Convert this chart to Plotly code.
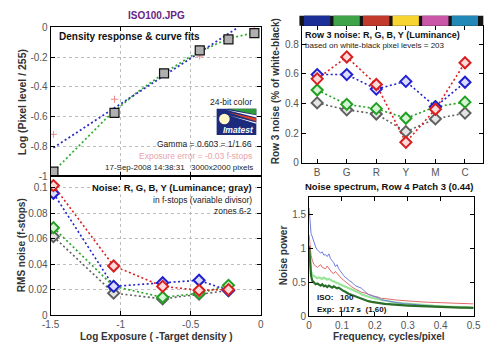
import plotly.graph_objects as go

# ---------------- data ----------------
# Top-left: density response
tl_x = [-1.48, -1.044, -0.69, -0.435, -0.23, -0.045]
tl_y = [-0.97, -0.575, -0.31, -0.155, -0.082, -0.04]
tl_red_x = [-1.48, -1.044, -0.435, -0.045]
tl_red_y = [-0.72, -0.484, -0.194, -0.015]
fit_blue_x = [-1.48, -0.16]
fit_blue_y = [-0.81, 0.0]
fit_green_x = [-1.48, -1.3, -1.1, -0.9, -0.7, -0.5, -0.3, -0.2, -0.1, -0.04]
fit_green_y = [-0.97, -0.80, -0.61, -0.45, -0.315, -0.195, -0.105, -0.07, -0.047, -0.036]
tl_yticks = [0, -0.2, -0.4, -0.6, -0.8, -1]
tl_yticktext = ["0", "-0.2", "-0.4", "-0.6", "-0.8", "-1"]

# Bottom-left: RMS noise (f-stops), zones 6-2
bl_x = [-1.48, -1.05, -0.70, -0.44, -0.23]
bl_red = [0.1015, 0.0385, 0.0225, 0.0195, 0.0200]
bl_blue = [0.0955, 0.0225, 0.0253, 0.0273, 0.0192]
bl_green = [0.0685, 0.0225, 0.0140, 0.0170, 0.0233]
bl_gray = [0.0615, 0.0172, 0.0127, 0.0165, 0.0192]
bl_xticks = [-1.5, -1, -0.5, 0]
bl_xticktext = ["-1.5", "-1", "-0.5", "0"]

# Top-right: Row 3 noise by patch colour
tr_cats = ["B", "G", "R", "Y", "M", "C"]
tr_red = [0.566, 0.714, 0.528, 0.138, 0.361, 0.675]
tr_blue = [0.595, 0.595, 0.497, 0.549, 0.378, 0.543]
tr_green = [0.491, 0.394, 0.365, 0.300, 0.378, 0.409]
tr_gray = [0.404, 0.357, 0.329, 0.210, 0.296, 0.335]
patch_colors = ["#1c2f96", "#3fa34a", "#c23a2c", "#f7d430", "#c956a6", "#2288b8"]

# Bottom-right: noise spectrum
freq = [0, 0.003, 0.006, 0.01, 0.015, 0.02, 0.025, 0.03, 0.035, 0.04, 0.045, 0.05,
        0.055, 0.06, 0.065, 0.07, 0.075, 0.08, 0.085, 0.09, 0.095, 0.1, 0.105, 0.11,
        0.115, 0.12, 0.13, 0.14, 0.15, 0.16, 0.17, 0.18, 0.19, 0.2, 0.21, 0.22, 0.23,
        0.24, 0.25, 0.26, 0.27, 0.28, 0.29, 0.3, 0.32, 0.34, 0.36, 0.38, 0.4, 0.42,
        0.44, 0.46, 0.48, 0.5]
sp_blue = [1.60, 1.38, 1.22, 1.17, 1.08, 1.02, 0.98, 0.96, 0.93, 0.95, 0.90, 0.91,
           0.88, 0.92, 0.85, 0.82, 0.79, 0.73, 0.76, 0.70, 0.66, 0.62, 0.60, 0.57,
           0.56, 0.53, 0.50, 0.45, 0.43, 0.41, 0.36, 0.32, 0.30, 0.29, 0.27, 0.24,
           0.23, 0.22, 0.21, 0.20, 0.19, 0.19, 0.18, 0.18, 0.17, 0.155, 0.15, 0.14,
           0.135, 0.13, 0.13, 0.125, 0.125, 0.12]
sp_red = [1.20, 1.02, 0.90, 0.82, 0.76, 0.74, 0.72, 0.74, 0.76, 0.72, 0.71, 0.70,
          0.74, 0.70, 0.68, 0.64, 0.63, 0.66, 0.63, 0.60, 0.58, 0.55, 0.53, 0.51,
          0.48, 0.47, 0.43, 0.40, 0.37, 0.35, 0.34, 0.32, 0.30, 0.29, 0.28, 0.26,
          0.26, 0.25, 0.24, 0.24, 0.235, 0.23, 0.23, 0.225, 0.215, 0.21, 0.205, 0.20,
          0.20, 0.195, 0.19, 0.19, 0.185, 0.18]
sp_lgreen = [0.99, 0.80, 0.66, 0.61, 0.59, 0.58, 0.56, 0.57, 0.56, 0.55, 0.57, 0.56,
             0.54, 0.55, 0.53, 0.52, 0.51, 0.50, 0.49, 0.48, 0.47, 0.46, 0.45, 0.44,
             0.42, 0.41, 0.39, 0.37, 0.35, 0.32, 0.30, 0.29, 0.27, 0.26, 0.25, 0.23,
             0.22, 0.21, 0.205, 0.20, 0.195, 0.19, 0.185, 0.18, 0.17, 0.16, 0.155, 0.15,
             0.145, 0.14, 0.135, 0.13, 0.125, 0.12]
sp_dgreen = [1.04, 0.78, 0.60, 0.52, 0.49, 0.47, 0.48, 0.46, 0.45, 0.47, 0.44, 0.45,
             0.43, 0.45, 0.44, 0.42, 0.44, 0.43, 0.41, 0.42, 0.40, 0.39, 0.37, 0.36,
             0.34, 0.33, 0.31, 0.29, 0.27, 0.25, 0.24, 0.22, 0.21, 0.20, 0.195, 0.19,
             0.18, 0.175, 0.17, 0.165, 0.16, 0.16, 0.155, 0.155, 0.15, 0.145, 0.14, 0.14,
             0.135, 0.13, 0.13, 0.125, 0.125, 0.12]

# ---------------- helpers ----------------
W, H = 500, 352
def px(x):
    return x / W
def py(y):
    return 1 - y / H

FONT = "Liberation Sans, Arial, sans-serif"
TXT = "#222222"
DOTS = "2px,2.5px"

fig = go.Figure()

# ---- top-left traces
fig.add_trace(go.Scatter(x=fit_green_x, y=fit_green_y, mode="lines",
                         line=dict(color="#34b034", width=1.8, dash=DOTS),
                         xaxis="x", yaxis="y"))
fig.add_trace(go.Scatter(x=fit_blue_x, y=fit_blue_y, mode="lines",
                         line=dict(color="#2c2cc8", width=1.8, dash=DOTS),
                         xaxis="x", yaxis="y"))
fig.add_trace(go.Scatter(x=tl_red_x, y=tl_red_y, mode="markers",
                         marker=dict(symbol="cross-thin", size=5,
                                     line=dict(color="#ee8888", width=1)),
                         xaxis="x", yaxis="y"))
fig.add_trace(go.Scatter(x=tl_x, y=tl_y, mode="markers",
                         marker=dict(symbol="square", size=9, color="#b0b0b0",
                                     line=dict(color="#111111", width=1.2)),
                         xaxis="x", yaxis="y"))

# ---- bottom-left and top-right series
series_style = [
    ("#606060", "#e4e4e4"),
    ("#22a022", "#d4f4d4"),
    ("#2020d0", "#dcdcff"),
    ("#d82020", "#ffdada"),
]
bl_vals = [bl_gray, bl_green, bl_blue, bl_red]
tr_vals = [tr_gray, tr_green, tr_blue, tr_red]
for (lc, fc), v in zip(series_style, bl_vals):
    fig.add_trace(go.Scatter(x=bl_x, y=v, mode="lines+markers",
                             line=dict(color=lc, width=1.6, dash=DOTS),
                             marker=dict(symbol="diamond", size=8.5, color=fc,
                                         line=dict(color=lc, width=2)),
                             xaxis="x2", yaxis="y2"))
for (lc, fc), v in zip(series_style, tr_vals):
    fig.add_trace(go.Scatter(x=tr_cats, y=v, mode="lines+markers",
                             line=dict(color=lc, width=1.6, dash=DOTS),
                             marker=dict(symbol="diamond", size=8.5, color=fc,
                                         line=dict(color=lc, width=2)),
                             xaxis="x3", yaxis="y3"))

# ---- bottom-right spectrum
fig.add_trace(go.Scatter(x=freq, y=sp_red, mode="lines",
                         line=dict(color="#e06a6a", width=1), xaxis="x4", yaxis="y4"))
fig.add_trace(go.Scatter(x=freq, y=sp_lgreen, mode="lines",
                         line=dict(color="#98e698", width=2.2), xaxis="x4", yaxis="y4"))
fig.add_trace(go.Scatter(x=freq, y=sp_blue, mode="lines",
                         line=dict(color="#6f7de0", width=1), xaxis="x4", yaxis="y4"))
fig.add_trace(go.Scatter(x=freq, y=sp_dgreen, mode="lines",
                         line=dict(color="#2a6e2a", width=2.2), xaxis="x4", yaxis="y4"))

# ---------------- axes ----------------
base = dict(showline=True, linecolor="black", linewidth=1, mirror="ticks",
            ticks="inside", ticklen=4, tickcolor="black", zeroline=False,
            tickfont=dict(size=10, color="#555555", family=FONT), showgrid=False)
grid = dict(showgrid=True, gridcolor="#bdbdbd", griddash="dot", gridwidth=1)

dom_left = [px(43), px(260)]
fig.update_layout(
    xaxis=dict(base, **grid, domain=dom_left, range=[-1.5, 0], anchor="y",
               tickvals=bl_xticks, showticklabels=False),
    yaxis=dict(base, **grid, domain=[py(176), py(22)], range=[-1, 0], anchor="x",
               tickvals=tl_yticks, ticktext=tl_yticktext),
    xaxis2=dict(base, **grid, domain=dom_left, range=[-1.5, 0], anchor="y2",
                tickvals=bl_xticks, ticktext=bl_xticktext),
    yaxis2=dict(base, **grid, domain=[py(320), py(176)], range=[0, 0.109], anchor="x2",
                dtick=0.02),
    xaxis3=dict(base, domain=[px(302.5), px(490)], range=[-0.52, 5.62], anchor="y3",
                type="category"),
    yaxis3=dict(base, domain=[py(162.3), py(20.5)], range=[0, 0.924], anchor="x3",
                dtick=0.2),
    xaxis4=dict(base, domain=[px(310), px(480)], range=[0, 0.5], anchor="y4",
                dtick=0.1),
    yaxis4=dict(base, domain=[py(321), py(198)], range=[0, 1.757], anchor="x4",
                dtick=0.5),
)

# ---------------- shapes ----------------
shapes = []
# colour strip above top-right panel (computed from category positions)
x3_dom = [px(302.5), px(490)]
x3_rng = [-0.52, 5.62]
def x3p(v):
    return x3_dom[0] + (v - x3_rng[0]) / (x3_rng[1] - x3_rng[0]) * (x3_dom[1] - x3_dom[0])
shapes.append(dict(type="rect", xref="paper", yref="paper",
                   x0=px(300), x1=px(490), y0=py(20.5), y1=py(10),
                   fillcolor="#151515", line=dict(width=0), layer="above"))
for i, c in enumerate(patch_colors):
    left = max(i - 0.45, -0.5)
    shapes.append(dict(type="rect", xref="paper", yref="paper",
                       x0=x3p(left), x1=x3p(i + 0.44), y0=py(20.5), y1=py(10),
                       fillcolor=c, line=dict(width=0), layer="above"))

# Imatest logo
def path(pts):
    s = "M " + " L ".join(f"{px(a):.5f},{py(b):.5f}" for a, b in pts) + " Z"
    return s
shapes.append(dict(type="rect", xref="paper", yref="paper",
                   x0=px(214.5), x1=px(255.5), y0=py(133.5), y1=py(106.5),
                   fillcolor="#1d2b7c", line=dict(width=0)))
shapes.append(dict(type="path", xref="paper", yref="paper",
                   path=path([(226, 106.5), (255.5, 106.5), (255.5, 112.5)]),
                   fillcolor="#2f9a3c", line=dict(width=0)))
shapes.append(dict(type="path", xref="paper", yref="paper",
                   path=path([(224, 107.5), (255.5, 113.2), (255.5, 115.5)]),
                   fillcolor="#ffffff", line=dict(width=0)))
shapes.append(dict(type="path", xref="paper", yref="paper",
                   path=path([(226, 110), (255.5, 116.2), (255.5, 119.5)]),
                   fillcolor="#d8402c", line=dict(width=0)))
shapes.append(dict(type="path", xref="paper", yref="paper",
                   path=path([(227, 113), (255.5, 120.5), (255.5, 122)]),
                   fillcolor="#ffffff", line=dict(width=0)))
shapes.append(dict(type="circle", xref="paper", yref="paper",
                   x0=px(217), x1=px(228), y0=py(122.5), y1=py(111.5),
                   fillcolor="#fff6c8", line=dict(width=0)))
fig.update_layout(shapes=shapes)

# ---------------- text ----------------
def ann(text, x, y, size=9, bold=False, color=TXT, xa="center", angle=0, italic=False,
        bg=None):
    t = f"<b>{text}</b>" if bold else text
    if italic:
        t = f"<i>{t}</i>"
    d = dict(text=t, x=px(x), y=py(y), xref="paper", yref="paper", showarrow=False,
             xanchor=xa, yanchor="middle", textangle=angle,
             font=dict(size=size, color=color, family=FONT))
    if bg:
        d["bgcolor"] = bg
    return d

annotations = [
    ann("ISO100.JPG", 152, 10, 10, True, "#6a2585"),
    ann("Density response &amp; curve fits", 50, 32, 10, True, "#111111", "left"),
    ann("24-bit color", 253, 99, 8.5, False, TXT, "right"),
    ann("Imatest", 237, 128, 8.5, True, "#ffffff", "center", italic=True),
    ann("Gamma = 0.603 = 1/1.66", 253, 143, 8.5, False, TXT, "right"),
    ann("Exposure error = -0.03 f-stops", 253, 155, 8.5, False, "#e8a2aa", "right"),
    ann("17-Sep-2008 14:38:31", 184, 167, 8, False, TXT, "right"),
    ann("3000x2000 pixels", 254, 167, 8, False, TXT, "right"),
    ann("Noise: R, G, B, Y (Luminance; gray)", 253, 188, 9.5, True, "#111111", "right",
        bg="rgba(255,255,255,0.85)"),
    ann("in f-stops (variable divisor)", 253, 201, 8.5, False, TXT, "right"),
    ann("zones 6-2", 253, 212, 8.5, False, TXT, "right"),
    ann("Row 3 noise: R, G, B, Y (Luminance)", 304, 30, 9, True, "#111111", "left"),
    ann("based on white-black pixel levels = 203", 304, 41, 8, False, TXT, "left"),
    ann("Noise spectrum, Row 4 Patch 3 (0.44)", 393, 187, 9.5, True, "#111111"),
    ann("ISO:&nbsp;&nbsp;&nbsp;100", 316, 302, 8, True, "#111111", "left"),
    ann("Exp:&nbsp;&nbsp;1/17 s&nbsp;&nbsp;(1.60)", 316, 314, 8, True, "#111111", "left"),
    # axis titles
    ann("Log (Pixel level / 255)", 13, 100, 10.5, True, "#333333", angle=-90),
    ann("RMS noise (f-stops)", 13, 248, 10, True, "#333333", angle=-90),
    ann("Log Exposure ( -Target density )", 152, 342, 10, True, "#333333"),
    ann("Row 3 noise (% of white-black)", 275, 88, 10, True, "#333333", angle=-90),
    ann("Noise power", 283, 258, 10, True, "#333333", angle=-90),
    ann("Frequency, cycles/pixel", 393, 342, 10, True, "#333333"),
]
fig.update_layout(annotations=annotations)

fig.update_layout(width=W, height=H, margin=dict(l=0, r=0, t=0, b=0),
                  paper_bgcolor="white", plot_bgcolor="white", showlegend=False,
                  font=dict(family=FONT, size=10, color=TXT))

fig.write_html("out.html")
